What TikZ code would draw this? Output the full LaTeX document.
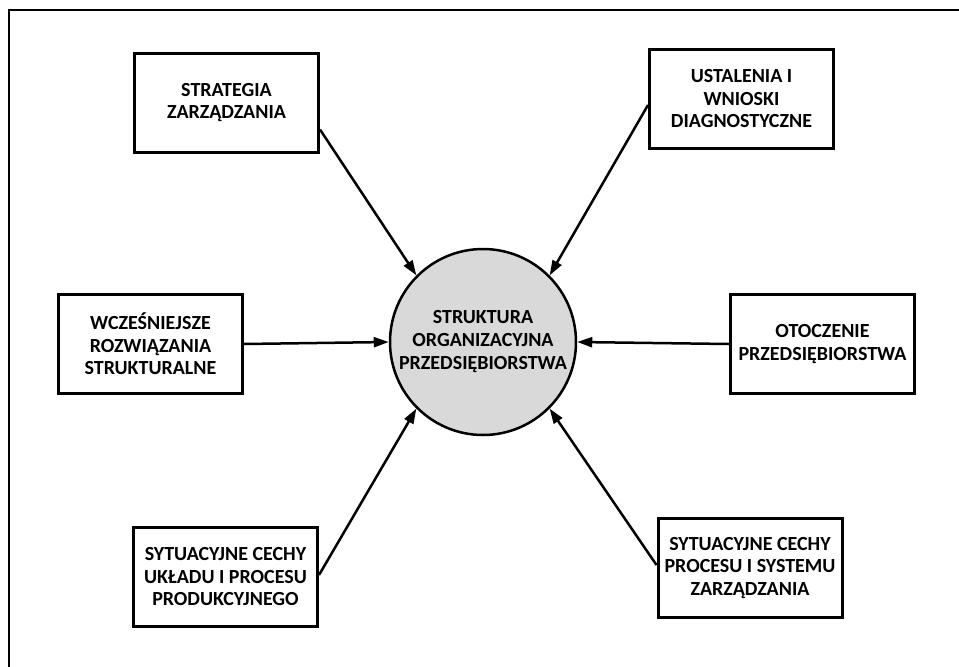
\documentclass[tikz,border=0pt]{standalone}
\usepackage{fontspec}
\setmainfont{Carlito}
\usetikzlibrary{arrows.meta}
\definecolor{hubfill}{RGB}{217,217,217}
\begin{document}
\begin{tikzpicture}[x=1pt,y=-1pt,
  box/.style={draw,line width=3pt,minimum width=184pt,minimum height=99pt,
    align=center,inner sep=0pt,font=\bfseries\fontsize{20}{22.5}\selectfont},
  hub/.style={circle,draw,line width=2.5pt,fill=hubfill,minimum size=186pt,
    align=center,inner sep=0pt,font=\bfseries\fontsize{20}{23}\selectfont},
  link/.style={line width=2.5pt,-{Triangle[length=15pt,width=10pt]}}]
\useasboundingbox (0,0) rectangle (959,667);
% frame lines along the top and left
\coordinate (fc) at (9,10);
\coordinate (fr) at (959,10);
\coordinate (fb) at (9,667);
\draw[line width=2pt] (fb) -- (fc) -- (fr);

\node[hub] (c) at (483,342) {STRUKTURA\\ORGANIZACYJNA\\PRZEDSIĘBIORSTWA};

\node[box] (strat) at (226.5,102.5) {STRATEGIA\\ZARZĄDZANIA};
\node[box] (usta) at (741.5,99) {USTALENIA I\\WNIOSKI\\DIAGNOSTYCZNE};
\node[box] (wcze) at (150.5,344) {WCZEŚNIEJSZE\\ROZWIĄZANIA\\STRUKTURALNE};
\node[box] (otocz) at (822.5,344) {OTOCZENIE\\PRZEDSIĘBIORSTWA};
\node[box] (uklad) at (225.5,577) {SYTUACYJNE CECHY\\UKŁADU I PROCESU\\PRODUKCYJNEGO};
\node[box] (proc) at (750,568) {SYTUACYJNE CECHY\\PROCESU I SYSTEMU\\ZARZĄDZANIA};

\draw[link] ([yshift=-27pt]strat.east) -- (c.135);
\draw[link] ([yshift=-6pt]usta.west) -- (c.45);
\draw[link] (wcze.east) -- (c.west);
\draw[link] (otocz.west) -- (c.east);
\draw[link] ([yshift=2pt]uklad.east) -- (c.225);
\draw[link] ([yshift=3pt]proc.west) -- (c.315);
\end{tikzpicture}
\end{document}
